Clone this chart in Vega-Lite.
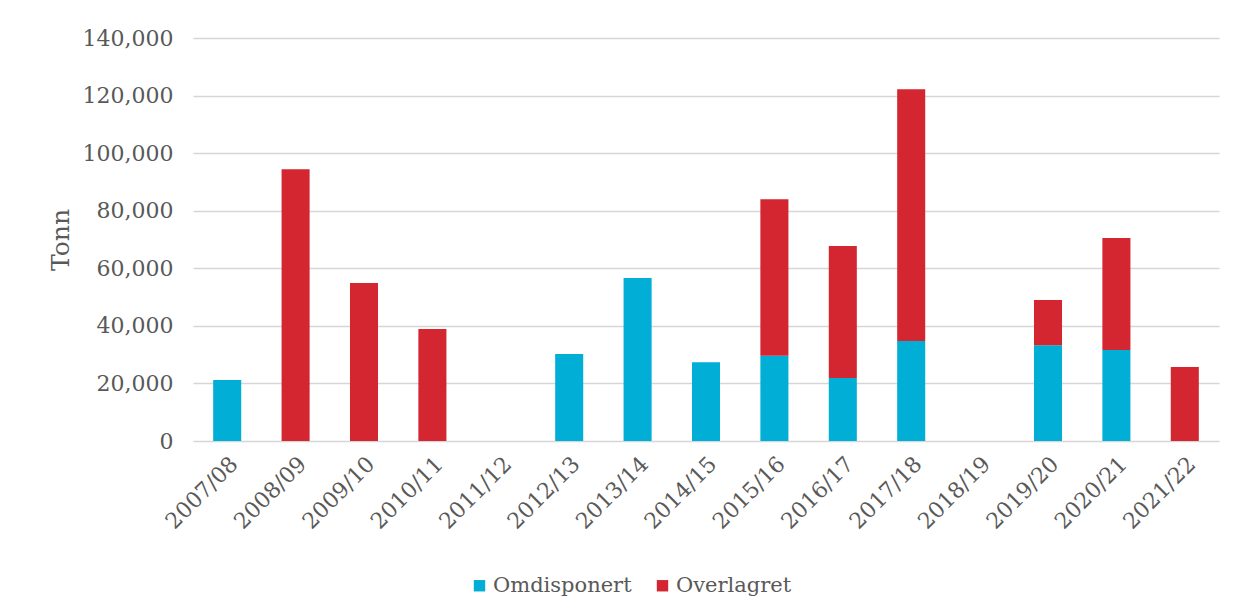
{
  "$schema": "https://vega.github.io/schema/vega-lite/v6.json",
  "width": 1026,
  "height": 403,
  "autosize": {"type": "none"},
  "padding": {"left": 193, "top": 38, "right": 17, "bottom": 172},
  "background": "white",
  "data": {
    "values": [
      {"season": "2007/08", "type": "Omdisponert", "tonn": 21200},
      {"season": "2008/09", "type": "Overlagret", "tonn": 94400},
      {"season": "2009/10", "type": "Overlagret", "tonn": 54900},
      {"season": "2010/11", "type": "Overlagret", "tonn": 38900},
      {"season": "2012/13", "type": "Omdisponert", "tonn": 30200},
      {"season": "2013/14", "type": "Omdisponert", "tonn": 56600},
      {"season": "2014/15", "type": "Omdisponert", "tonn": 27400},
      {"season": "2015/16", "type": "Omdisponert", "tonn": 29600},
      {"season": "2015/16", "type": "Overlagret", "tonn": 54400},
      {"season": "2016/17", "type": "Omdisponert", "tonn": 21900},
      {"season": "2016/17", "type": "Overlagret", "tonn": 45800},
      {"season": "2017/18", "type": "Omdisponert", "tonn": 34700},
      {"season": "2017/18", "type": "Overlagret", "tonn": 87500},
      {"season": "2019/20", "type": "Omdisponert", "tonn": 33300},
      {"season": "2019/20", "type": "Overlagret", "tonn": 15700},
      {"season": "2020/21", "type": "Omdisponert", "tonn": 31600},
      {"season": "2020/21", "type": "Overlagret", "tonn": 38900},
      {"season": "2021/22", "type": "Overlagret", "tonn": 25700}
    ]
  },
  "mark": {"type": "bar"},
  "encoding": {
    "x": {
      "field": "season",
      "type": "nominal",
      "scale": {
        "domain": ["2007/08","2008/09","2009/10","2010/11","2011/12","2012/13","2013/14","2014/15","2015/16","2016/17","2017/18","2018/19","2019/20","2020/21","2021/22"],
        "paddingInner": 0.59,
        "paddingOuter": 0.295
      },
      "axis": {
        "title": null,
        "labelAngle": -45,
        "labelFontSize": 22,
        "labelPadding": 12,
        "ticks": false,
        "domain": false
      }
    },
    "y": {
      "field": "tonn",
      "type": "quantitative",
      "aggregate": "sum",
      "stack": "zero",
      "scale": {"domain": [0, 140000], "nice": false},
      "axis": {
        "title": "Tonn",
        "titleFontSize": 25,
        "titleFontWeight": "normal",
        "titlePadding": 9,
        "values": [0, 20000, 40000, 60000, 80000, 100000, 120000, 140000],
        "format": ",d",
        "labelFontSize": 22,
        "labelPadding": 20,
        "ticks": false,
        "domain": false,
        "gridColor": "#d6d6d6",
        "gridWidth": 1.6
      }
    },
    "color": {
      "field": "type",
      "type": "nominal",
      "scale": {"domain": ["Omdisponert", "Overlagret"], "range": ["#00AED6", "#D32630"]},
      "legend": {
        "title": null,
        "orient": "none",
        "direction": "horizontal",
        "legendX": 276,
        "legendY": 537,
        "symbolType": "square",
        "symbolSize": 130,
        "symbolStrokeWidth": 0,
        "labelFontSize": 21,
        "columnPadding": 20,
        "labelOffset": 3
      }
    },
    "order": {"field": "type", "sort": "ascending"}
  },
  "config": {
    "font": "DejaVu Serif",
    "view": {"stroke": null},
    "axis": {"labelColor": "#595959", "titleColor": "#595959", "labelFont": "DejaVu Serif", "titleFont": "DejaVu Serif"},
    "legend": {"labelColor": "#595959", "labelFont": "DejaVu Serif"}
  }
}
